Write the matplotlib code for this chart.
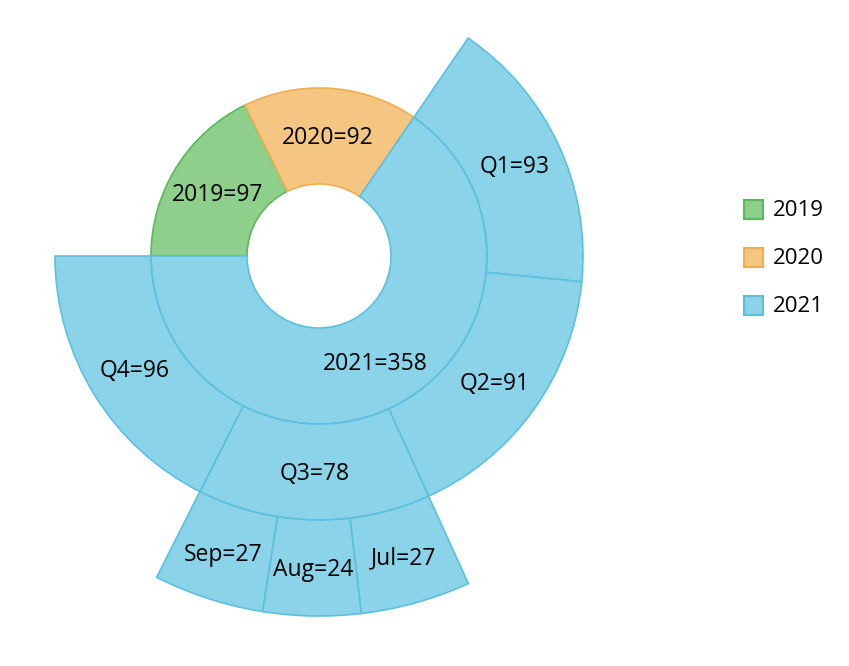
import matplotlib
matplotlib.use("Agg")
import matplotlib.pyplot as plt
from matplotlib.patches import Wedge, Rectangle
import numpy as np

plt.rcParams['font.family'] = ['Open Sans', 'DejaVu Sans']

# Data
years = ["2019", "2020", "2021"]
year_values = [97, 92, 358]
quarters = ["Q1", "Q2", "Q3", "Q4"]
quarter_values = [93, 91, 78, 96]
months = ["Jul", "Aug", "Sep"]
month_values = [27, 24, 27]

fills = {"2019": "#8dcf8b", "2020": "#f5c682", "2021": "#8bd3e8"}
edges = {"2019": "#5cb85c", "2020": "#f0ad4e", "2021": "#5bc0de"}

W, H = 849, 666
fig = plt.figure(figsize=(W / 100, H / 100), dpi=100)
ax = fig.add_axes([0, 0, 1, 1])
ax.set_xlim(0, W)
ax.set_ylim(0, H)
ax.set_aspect('equal')
ax.axis('off')

cx, cy = 319, H - 256
r0, r1, r2, r3 = 72, 168, 264, 360
total = sum(year_values)
deg_per = 360.0 / total
start = 180.0


def draw(label, value, a_start, rin, rout, key):
    a_end = a_start - value * deg_per
    w = Wedge((cx, cy), rout, a_end, a_start, width=rout - rin,
              facecolor=fills[key], edgecolor=edges[key], linewidth=1.2)
    ax.add_patch(w)
    mid = np.deg2rad((a_start + a_end) / 2)
    rm = (rin + rout) / 2
    ax.text(cx + rm * np.cos(mid), cy + rm * np.sin(mid) - 2, f"{label}={value}",
            ha='center', va='center', fontsize=16.5, color='#000000')
    return a_end


a = start
year_starts = {}
for y, v in zip(years, year_values):
    year_starts[y] = a
    a = draw(y, v, a, r0, r1, y)

a = year_starts["2021"]
q_starts = {}
for q, v in zip(quarters, quarter_values):
    q_starts[q] = a
    a = draw(q, v, a, r1, r2, "2021")

a = q_starts["Q3"]
for m, v in zip(months, month_values):
    a = draw(m, v, a, r2, r3, "2021")

# Legend
for i, y in enumerate(years):
    yy = H - (209 + 48 * i)
    ax.add_patch(Rectangle((744.5, yy - 9.5), 19, 19, facecolor=fills[y],
                           edgecolor=edges[y], linewidth=1.5))
    ax.text(773, yy - 2, y, ha='left', va='center', fontsize=16, color='#000000')

fig.savefig("out.png", dpi=100)
